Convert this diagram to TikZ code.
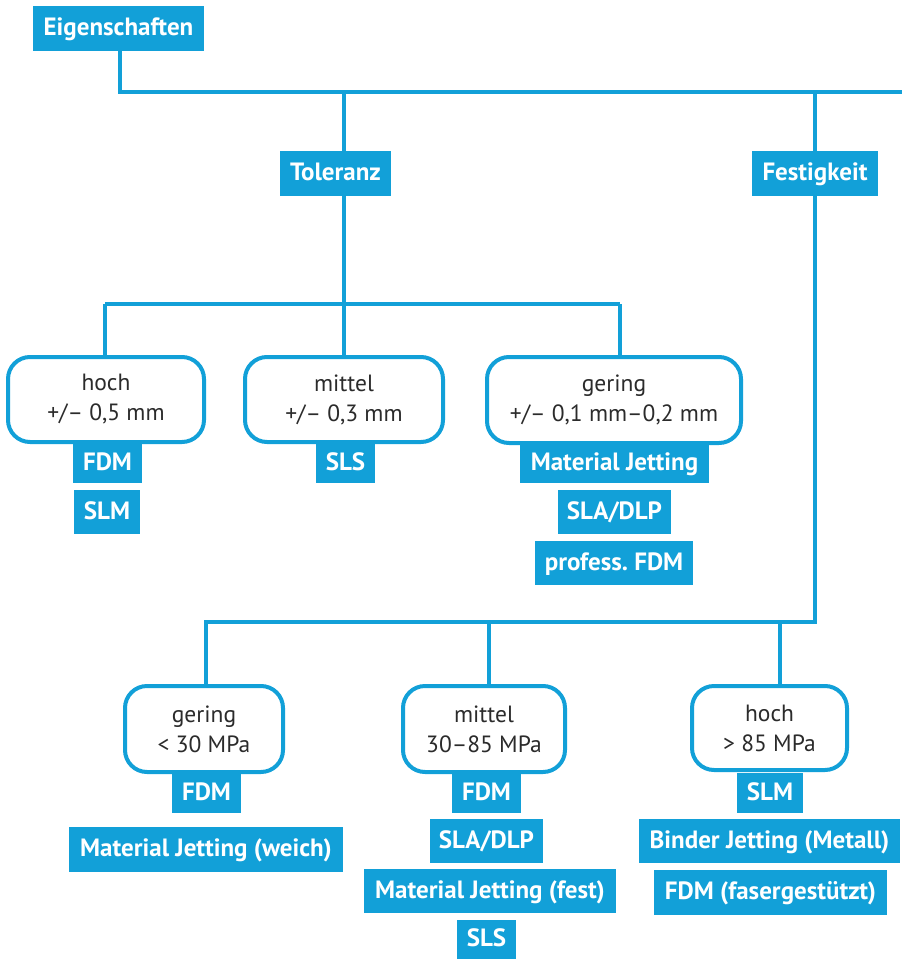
\documentclass[tikz,border=0pt]{standalone}
\usepackage{fontspec}
\setmainfont{PT Sans}
\frenchspacing
\definecolor{cblue}{HTML}{12A0D8}
\definecolor{ctext}{HTML}{2B2B2B}
\tikzset{
  lab/.style={rectangle, fill=cblue, text=white, inner sep=0pt,
    font=\fontsize{25}{29}\selectfont\bfseries, text height=17.5pt, text depth=3pt},
  rbox/.style={rectangle, rounded corners=22pt, draw=cblue, line width=4pt, fill=white,
    text=ctext, align=center, inner sep=0pt, font=\fontsize{23.5}{30}\selectfont},
  conn/.style={draw=cblue, line width=3.6pt}
}
\newcommand{\lbl}[6]{\node[lab, minimum width=#4pt, minimum height=#5pt] (#1) at (#2,#3) {#6};}
\newcommand{\rbx}[6]{\node[rbox, minimum width=#4pt, minimum height=#5pt] (#1) at (#2,#3) {#6};}
\begin{document}
\begin{tikzpicture}[x=1pt,y=-1pt]
\useasboundingbox (0,0) rectangle (902,960);
% junction coordinates
\coordinate (jtop) at (120,92);
\coordinate (jend) at (902,92);
\coordinate (jtol) at (344,92);
\coordinate (jfes) at (815,92);
\coordinate (htol) at (344,304);
\coordinate (htolL) at (105,304);
\coordinate (htolR) at (620,304);
\coordinate (hfes) at (815,622);
\coordinate (hfesL) at (206,622);
\coordinate (hfesM) at (489,622);
\coordinate (hfesR) at (780,622);

\lbl{eig}{118.5}{28.5}{171}{45}{Eigenschaften}
\lbl{tol}{335.5}{173.5}{111}{45}{Toleranz}
\lbl{fes}{815}{173.5}{126}{45}{Festigkeit}

\rbx{hoch1}{106}{399.5}{196}{85}{hoch\\+/– 0,5 mm}
\rbx{mit1}{344}{399.5}{198}{85}{mittel\\+/– 0,3 mm}
\rbx{ger1}{614}{400}{254}{86}{gering\\+/– 0,1 mm–0,2 mm}

\rbx{ger2}{204}{729}{158}{86}{gering\\< 30 MPa}
\rbx{mit2}{484}{729}{162}{86}{mittel\\30–85 MPa}
\rbx{hoch2}{769.5}{728}{155}{84}{hoch\\> 85 MPa}

\draw[conn] (eig.south -| jtop) -- (jtop) -- (jend);
\draw[conn] (jtol) -- (tol.north -| jtol);
\draw[conn] (tol.south -| jtol) -- (htol);
\draw[conn] (htolL) -- (htolR);
\draw[conn] (htolL) -- (hoch1.north -| htolL);
\draw[conn] (htol) -- (mit1.north -| htol);
\draw[conn] (htolR) -- (ger1.north -| htolR);
\draw[conn] (jfes) -- (fes.north);
\draw[conn] (fes.south) -- (hfes) -- (hfesL) -- (ger2.north -| hfesL);
\draw[conn] (hfesM) -- (mit2.north -| hfesM);
\draw[conn] (hfesR) -- (hoch2.north -| hfesR);

\lbl{fdm1}{107.5}{463}{69}{40}{FDM}
\lbl{slm1}{107}{512}{66}{44}{SLM}
\lbl{sls1}{345.5}{463}{59}{40}{SLS}
\lbl{mj1}{614.5}{463}{189}{40}{Material Jetting}
\lbl{sla1}{614.5}{512}{113}{44}{SLA/DLP}
\lbl{prof1}{614}{563}{158}{44}{profess.\ FDM}

\lbl{fdm2}{206.5}{793}{69}{40}{FDM}
\lbl{mjw}{206}{849.5}{274}{45}{Material Jetting (weich)}
\lbl{fdm3}{486.5}{793}{69}{40}{FDM}
\lbl{sla2}{486.5}{841}{113}{44}{SLA/DLP}
\lbl{mjf}{490}{891}{252}{44}{Material Jetting (fest)}
\lbl{sls2}{486.5}{939.5}{59}{39}{SLS}
\lbl{slm2}{770}{793}{66}{40}{SLM}
\lbl{bj}{769.5}{841}{261}{44}{Binder Jetting (Metall)}
\lbl{fdmf}{770.5}{892.5}{233}{45}{FDM (fasergestützt)}
\end{tikzpicture}
\end{document}
